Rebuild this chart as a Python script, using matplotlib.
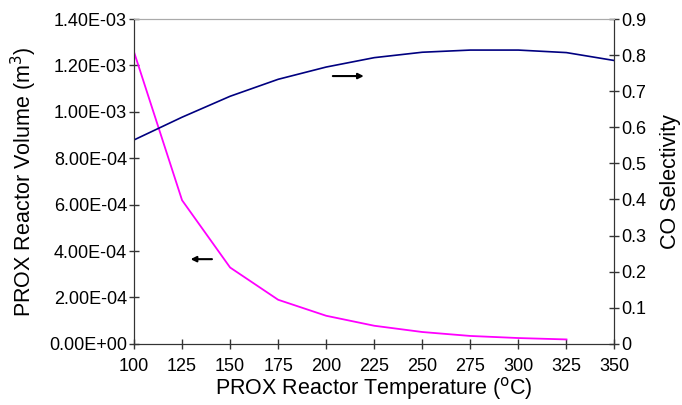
import matplotlib
matplotlib.use("Agg")
import matplotlib.pyplot as plt
from matplotlib.ticker import FuncFormatter

plt.rcParams['font.family'] = ['Liberation Sans', 'DejaVu Sans']

# data
temps = [100, 125, 150, 175, 200, 225, 250, 275, 300, 325, 350]
volume = [1.258e-3, 6.19e-4, 3.29e-4, 1.90e-4, 1.21e-4, 7.8e-5, 5.1e-5, 3.4e-5, 2.5e-5, 1.9e-5]
selectivity = [0.565, 0.628, 0.686, 0.733, 0.767, 0.793, 0.808, 0.814, 0.814, 0.807, 0.785]

fig = plt.figure(figsize=(6.82, 4.05), dpi=100)
ax = fig.add_axes([0.1965, 0.151, 0.7045, 0.802])
ax2 = ax.twinx()

ax.plot(temps[:len(volume)], volume, color='#FF00FF', lw=1.3)
ax2.plot(temps, selectivity, color='#000080', lw=1.2)

ax.set_xlim(100, 350)
ax.set_ylim(0, 1.4e-3)
ax2.set_ylim(0, 0.9)
ax.set_xticks(range(100, 351, 25))
ax.set_yticks([i * 2e-4 for i in range(8)])
ax2.set_yticks([i / 10 for i in range(10)])
ax.yaxis.set_major_formatter(FuncFormatter(lambda v, p: '{:.2E}'.format(v)))
ax2.yaxis.set_major_formatter(FuncFormatter(lambda v, p: '0' if abs(v) < 1e-9 else '{:.1f}'.format(v)))

for a in (ax, ax2):
    a.tick_params(direction='inout', length=7, width=1, labelsize=13, color='#333333', pad=1.5)
    for s in a.spines.values():
        s.set_color('#333333')
    a.spines['top'].set_color('#aaaaaa')
    a.spines['top'].set_linewidth(0.8)
ax.tick_params(axis='x', pad=7)

ax.set_xlabel('PROX Reactor Temperature ($^{\\mathrm{o}}$C)', fontsize=15.5, labelpad=0)
ax.set_ylabel('PROX Reactor Volume (m$^{\\mathrm{3}}$)', fontsize=15.5, labelpad=7)
ax2.set_ylabel('CO Selectivity', fontsize=15.5, labelpad=10)

# direction arrows
ax2.annotate('', xy=(221, 0.742), xytext=(202, 0.742),
             arrowprops=dict(arrowstyle='-|>', color='black', lw=1.5, mutation_scale=8))
ax.annotate('', xy=(128, 3.65e-4), xytext=(142, 3.65e-4),
            arrowprops=dict(arrowstyle='-|>', color='black', lw=1.5, mutation_scale=8))

fig.savefig('out.png', dpi=100, facecolor='white')
